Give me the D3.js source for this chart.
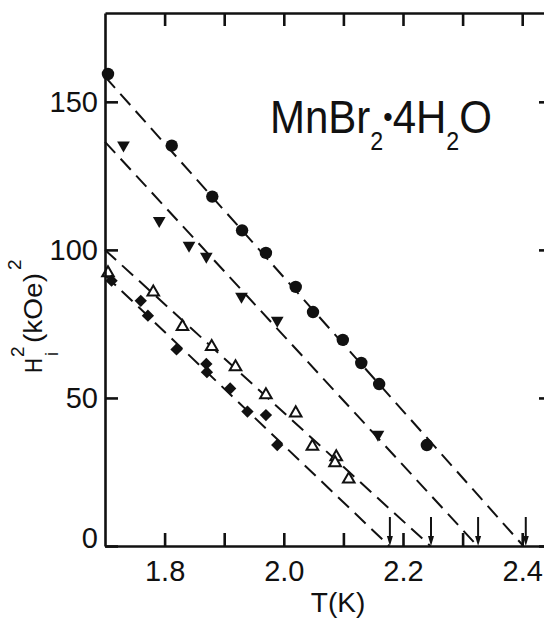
<!DOCTYPE html>
<html>
<head>
<meta charset="utf-8">
<script src="https://cdn.jsdelivr.net/npm/d3@7"></script>
<style>
    body { margin: 0; background: #fff; }
    svg { display: block; }
    .axis path, .axis line { stroke: #111; stroke-width: 2.6; }
    .axis text { font-family: "Liberation Sans", Arial, sans-serif; font-size: 29px; fill: #111; }
    .fit { fill: none; stroke: #111; stroke-width: 2; stroke-dasharray: 15 8; }
    .lbl { font-family: "Liberation Sans", Arial, sans-serif; fill: #111; }
</style>
</head>
<body>
<div id="chart"></div>
<script>
// data: T in K, Hi^2 in (kOe)^2
const circleT = [1.705, 1.812, 1.880, 1.930, 1.970, 2.020, 2.049, 2.099, 2.130, 2.160, 2.240];
const circleH = [159.4, 135.2, 118.0, 106.6, 99.0, 87.5, 79.0, 69.6, 61.8, 54.7, 34.1];

const triDownT = [1.731, 1.791, 1.841, 1.870, 1.929, 1.989, 2.158];
const triDownH = [135.4, 109.9, 101.5, 97.8, 84.3, 76.2, 37.7];

const triUpT = [1.705, 1.781, 1.830, 1.879, 1.919, 1.970, 2.020, 2.048, 2.088, 2.086, 2.109];
const triUpH = [92.2, 85.7, 74.1, 67.3, 60.5, 51.0, 44.9, 33.6, 30.1, 28.1, 22.6];

const diamondT = [1.711, 1.760, 1.772, 1.820, 1.870, 1.871, 1.910, 1.939, 1.970, 1.989];
const diamondH = [89.6, 82.8, 77.8, 66.4, 61.5, 58.7, 53.2, 45.4, 44.2, 34.1];

// dashed fits: value at T = 1.7 and where they reach zero
const fitStartH = [158.5, 136.5, 100, 91.5];
const fitEndT = [2.402, 2.325, 2.246, 2.177];

// arrows marking the transition temperatures
const arrowT = [2.406, 2.326, 2.247, 2.178];

const xTicks = [1.8, 1.9, 2.0, 2.1, 2.2, 2.3, 2.4];
const xLabels = ["1.8", "", "2.0", "", "2.2", "", "2.4"];
const yTicks = [0, 50, 100, 150];
const yLabels = ["0", "50", "100", "150"];

const width = 544, height = 618;

let svg = d3.select("#chart").append("svg")
    .attr("width", width)
    .attr("height", height);

let x = d3.scaleLinear().domain([1.7, 2.45]).range([105, 552]);
let y = d3.scaleLinear().domain([0, 180]).range([546, 13]);

// dashed lines
let line = d3.line().x(d => x(d[0])).y(d => y(d[1]));
fitStartH.forEach(function (h, i) {
    svg.append("path")
        .attr("class", "fit")
        .attr("d", line([[1.7, h], [fitEndT[i], 0]]));
});

// arrows
arrowT.forEach(function (t) {
    let ax = x(t), ay = y(0);
    svg.append("line")
        .attr("x1", ax).attr("x2", ax)
        .attr("y1", ay - 29).attr("y2", ay - 6)
        .attr("stroke", "#111").attr("stroke-width", 2);
    svg.append("path")
        .attr("d", "M" + (ax - 3) + "," + (ay - 10) + "L" + (ax + 3) + "," + (ay - 10) + "L" + ax + "," + ay + "Z")
        .attr("fill", "#111");
});

// markers
svg.append("g").selectAll("circle")
    .data(circleT)
    .enter().append("circle")
    .attr("cx", d => x(d))
    .attr("cy", (d, i) => y(circleH[i]))
    .attr("r", 6.2)
    .attr("fill", "#111");

svg.append("g").selectAll("path")
    .data(triDownT)
    .enter().append("path")
    .attr("d", d3.symbol(d3.symbolTriangle, 70))
    .attr("transform", (d, i) => "translate(" + x(d) + "," + y(triDownH[i]) + ") rotate(180)")
    .attr("fill", "#111");

svg.append("g").selectAll("path")
    .data(triUpT)
    .enter().append("path")
    .attr("d", d3.symbol(d3.symbolTriangle, 58))
    .attr("transform", (d, i) => "translate(" + x(d) + "," + y(triUpH[i]) + ")")
    .attr("fill", "#fff")
    .attr("stroke", "#111")
    .attr("stroke-width", 2);

svg.append("g").selectAll("path")
    .data(diamondT)
    .enter().append("path")
    .attr("d", d3.symbol(d3.symbolSquare, 76))
    .attr("transform", (d, i) => "translate(" + x(d) + "," + y(diamondH[i]) + ") rotate(45)")
    .attr("fill", "#111");

// axes, ticks pointing inward
svg.append("g")
    .attr("class", "axis")
    .attr("transform", "translate(0," + y(0) + ")")
    .call(d3.axisBottom(x).tickValues(xTicks).tickSizeInner(-13).tickSizeOuter(0)
        .tickPadding(14).tickFormat((d, i) => xLabels[i]));

svg.append("g")
    .attr("class", "axis")
    .attr("transform", "translate(0," + y(180) + ")")
    .call(d3.axisTop(x).tickValues(xTicks).tickSizeInner(-13).tickSizeOuter(0).tickFormat(""));

let yAxis = svg.append("g")
    .attr("class", "axis")
    .attr("transform", "translate(" + x(1.7) + ",0)")
    .call(d3.axisLeft(y).tickValues(yTicks).tickSizeInner(-13).tickSizeOuter(0)
        .tickPadding(7).tickFormat((d, i) => yLabels[i]));
// the zero label sits a bit higher than its tick
yAxis.selectAll(".tick text").filter(d => d == 0).attr("y", -8);

svg.append("g")
    .attr("class", "axis")
    .attr("transform", "translate(" + x(2.45) + ",0)")
    .call(d3.axisRight(y).tickValues(yTicks).tickSizeInner(-13).tickSizeOuter(0).tickFormat(""));

svg.selectAll(".axis text").attr("font-family", null).attr("font-size", null);

// compound name, squeezed to the width of the original lettering
let title = svg.append("text")
    .attr("class", "lbl")
    .attr("font-size", 47);
title.append("tspan").text("MnBr");
title.append("tspan").attr("dy", 17).attr("font-size", 26).text("2");
title.append("tspan").attr("dy", -23).attr("font-size", 30).text("\u2022");
title.append("tspan").attr("dy", 6).text("4H");
title.append("tspan").attr("dy", 17).attr("font-size", 26).text("2");
title.append("tspan").attr("dy", -17).text("O");
let titleLen = title.node().getComputedTextLength();
title.attr("transform", "translate(270,133) scale(" + (222 / titleLen) + ",1)");

// x label
svg.append("text")
    .attr("class", "lbl")
    .attr("x", 338)
    .attr("y", 612)
    .attr("text-anchor", "middle")
    .attr("font-size", 28)
    .text("T(K)");

// y label, rotated
let ylab = svg.append("g").attr("transform", "translate(42,373) rotate(-90)");
ylab.append("text").attr("class", "lbl").attr("font-size", 24)
    .attr("textLength", 15).attr("lengthAdjust", "spacingAndGlyphs").text("H");
ylab.append("text").attr("class", "lbl").attr("font-size", 18)
    .attr("x", 17).attr("y", 16).text("i");
ylab.append("text").attr("class", "lbl").attr("font-size", 19)
    .attr("x", 16).attr("y", -18).text("2");
ylab.append("text").attr("class", "lbl").attr("font-size", 25)
    .attr("x", 30).attr("textLength", 70).attr("lengthAdjust", "spacingAndGlyphs").text("(kOe)");
ylab.append("text").attr("class", "lbl").attr("font-size", 19)
    .attr("x", 103).attr("y", -21).text("2");
</script>
</body>
</html>
